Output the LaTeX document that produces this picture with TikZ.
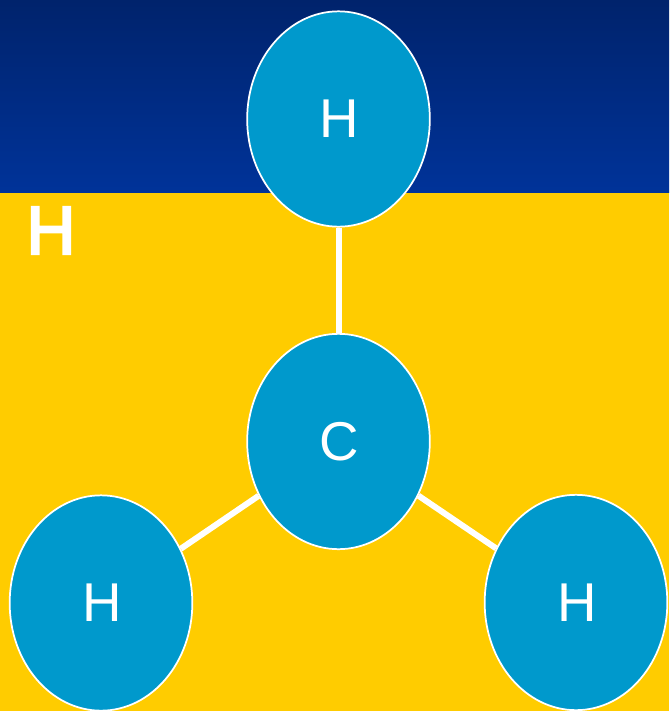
\documentclass[tikz,border=0pt]{standalone}
\usepackage{fontspec}
\setmainfont{Liberation Sans}
\newfontfamily\labelfont[FakeBold=3.5]{Liberation Sans}
\usetikzlibrary{shapes.geometric}
\definecolor{navytop}{RGB}{0,35,108}
\definecolor{navybot}{RGB}{0,51,153}
\definecolor{gold}{RGB}{255,204,0}
\definecolor{atomblue}{RGB}{0,153,204}
\tikzset{x=0.75pt,y=-0.75pt,
 atom/.style={ellipse,draw=white,line width=1.3pt,fill=atomblue,minimum width=137pt,minimum height=161.5pt,inner sep=0pt,text=white,font=\fontsize{41}{41}\selectfont,execute at begin node=\kern1.5pt},
 bond/.style={white,line width=4.5pt}}
\begin{document}
\begin{tikzpicture}
\useasboundingbox (0,0) rectangle (669,711);
\fill[gold] (0,192.5) rectangle (669,711);
\shade[top color=navytop,bottom color=navybot] (0,0) rectangle (669,192.5);
\node[text=white,font=\labelfont\fontsize{51}{51}\selectfont,anchor=center] (label) at (51,230.5) {H};
\node[atom] (top) at (338.5,119) {H};
\node[atom] (c) at (338.5,441.5) {C};
\node[atom] (left) at (101,603) {H};
\node[atom] (right) at (576,602.5) {H};
\draw[bond] (top) -- (c);
\draw[bond] (c) -- (left);
\draw[bond] (c) -- (right);
\end{tikzpicture}
\end{document}
